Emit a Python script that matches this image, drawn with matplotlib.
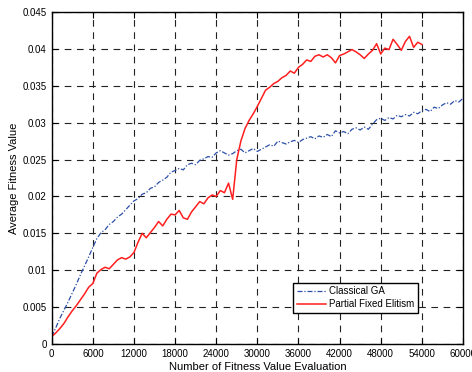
import matplotlib
matplotlib.use("Agg")
import matplotlib.pyplot as plt
from matplotlib.ticker import FuncFormatter

# evaluations (x) for each series
step = 600
ga_values = [
    0.0010, 0.0022, 0.0035, 0.0046, 0.0057, 0.0069, 0.0081, 0.0094, 0.0106, 0.0118,
    0.0131, 0.0143, 0.0151, 0.0155, 0.0162, 0.0166, 0.0172, 0.0176, 0.0182, 0.0188,
    0.0194, 0.0197, 0.0203, 0.0205, 0.0211, 0.0213, 0.0219, 0.0222, 0.0226, 0.0233,
    0.0235, 0.0238, 0.0236, 0.0243, 0.0245, 0.0243, 0.0249, 0.0251, 0.0254, 0.0253,
    0.0259, 0.0262, 0.0259, 0.0256, 0.0258, 0.0262, 0.0264, 0.0259, 0.0262, 0.0265,
    0.0261, 0.0264, 0.0267, 0.0270, 0.0268, 0.0275, 0.0273, 0.0271, 0.0274, 0.0276,
    0.0273, 0.0277, 0.0279, 0.0281, 0.0278, 0.0282, 0.0280, 0.0284, 0.0281, 0.0289,
    0.0286, 0.0288, 0.0285, 0.0291, 0.0293, 0.0290, 0.0294, 0.0291, 0.0298, 0.0304,
    0.0306, 0.0303, 0.0307, 0.0305, 0.0310, 0.0308, 0.0311, 0.0309, 0.0314, 0.0312,
    0.0316, 0.0318, 0.0315, 0.0321, 0.0319, 0.0324, 0.0327, 0.0325, 0.0330, 0.0328,
    0.0333,
]
pfe_values = [
    0.0010, 0.0015, 0.0021, 0.0028, 0.0037, 0.0045, 0.0052, 0.0060, 0.0068, 0.0077,
    0.0082, 0.0096, 0.0101, 0.0104, 0.0102, 0.0108, 0.0114, 0.0117, 0.0115, 0.0118,
    0.0124, 0.0138, 0.0150, 0.0144, 0.0151, 0.0158, 0.0166, 0.0160, 0.0169, 0.0176,
    0.0175, 0.0181, 0.0171, 0.0169, 0.0179, 0.0186, 0.0193, 0.0190, 0.0198, 0.0202,
    0.0200, 0.0208, 0.0205, 0.0218, 0.0196, 0.0250, 0.0275, 0.0292, 0.0303, 0.0312,
    0.0322, 0.0333, 0.0344, 0.0348, 0.0353, 0.0356, 0.0361, 0.0364, 0.0370, 0.0367,
    0.0375, 0.0379, 0.0385, 0.0383, 0.0390, 0.0392, 0.0389, 0.0392, 0.0388, 0.0381,
    0.0391, 0.0393, 0.0396, 0.0399, 0.0396, 0.0392, 0.0387, 0.0393, 0.0398, 0.0407,
    0.0393, 0.0401, 0.0399, 0.0413, 0.0406, 0.0398, 0.0410, 0.0417, 0.0402, 0.0409,
    0.0406,
]
ga_x = [i * step for i in range(len(ga_values))]
pfe_x = [i * step for i in range(len(pfe_values))]

xticks = list(range(0, 60001, 6000))
yticks = [i * 0.005 for i in range(10)]

plt.rcParams['font.family'] = ['Liberation Sans', 'DejaVu Sans']

fig = plt.figure(figsize=(4.72, 3.72), dpi=100)
ax = fig.add_axes([0.1095, 0.0753, 0.8714, 0.8925])

ax.plot(ga_x, ga_values, color='#2c4fa8', lw=0.9, linestyle=(0, (4, 1.5, 1, 1.5)),
        label='Classical GA')
ax.plot(pfe_x, pfe_values, color='#ff1f1f', lw=1.1, label='Partial Fixed Elitism')

ax.set_xlim(0, 60000)
ax.set_ylim(0, 0.045)
ax.set_xticks(xticks)
ax.set_yticks(yticks)
ax.xaxis.set_major_formatter(FuncFormatter(lambda v, p: '%d' % v))
ax.yaxis.set_major_formatter(FuncFormatter(lambda v, p: '%g' % round(v, 4)))
ax.tick_params(direction='in', top=True, right=True, labelsize=7, length=4, width=0.8)
ax.grid(True, color='#222222', linestyle=(0, (6, 5)), lw=0.8)
for s in ax.spines.values():
    s.set_linewidth(1.0)

ax.set_xlabel('Number of Fitness Value Evaluation', fontsize=8, labelpad=2)
ax.set_ylabel('Average Fitness Value', fontsize=8, labelpad=3)

leg = ax.legend(loc='lower right', bbox_to_anchor=(0.902, 0.078), fontsize=7,
                fancybox=False, framealpha=1, edgecolor='black', handlelength=3.0,
                borderpad=0.4, labelspacing=0.3, handletextpad=0.3)
leg.get_frame().set_linewidth(1.0)

fig.savefig('out.png', dpi=100)
